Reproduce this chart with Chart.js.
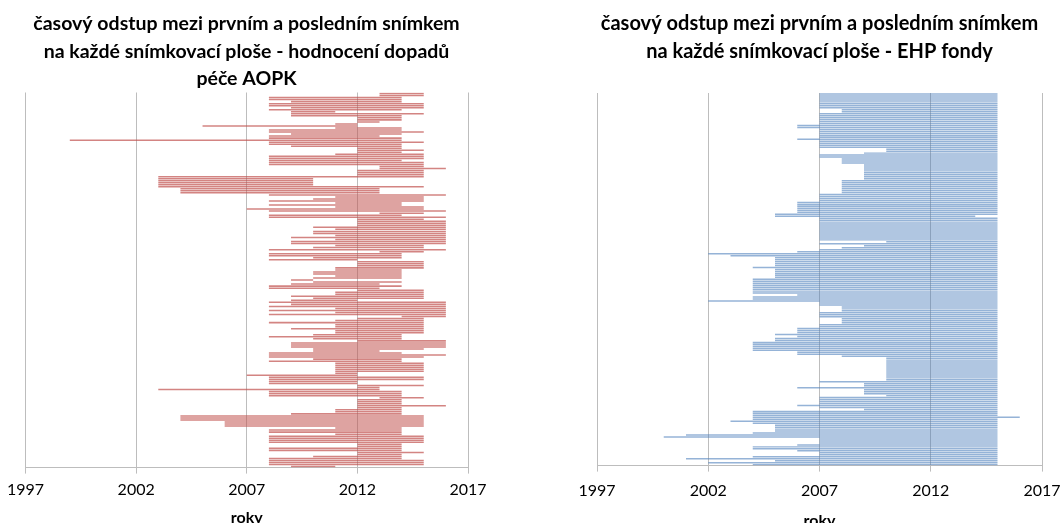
<!DOCTYPE html>
<html lang="cs">
<head>
<meta charset="utf-8" />
<title>časový odstup mezi prvním a posledním snímkem</title>
<style>
    html, body { margin: 0; padding: 0; background: #fff; overflow: hidden; }
    .panel { position: absolute; top: 0; }
    #p1 { left: 0; width: 531px; height: 531px; }
    #p2 { left: 531px; width: 560px; height: 534px; }
</style>
</head>
<body>
<div class="panel" id="p1"><canvas id="chart1"></canvas></div>
<div class="panel" id="p2"><canvas id="chart2"></canvas></div>
<script src="https://cdn.jsdelivr.net/npm/chart.js@4.4.0/dist/chart.umd.min.js"></script>
<script>
    // rok prvniho a posledniho snimku, radky shora dolu
    const aopkStart = [
        2013, 2013, 2008, 2008, 2009, 2008, 2008, 2009, 2008, 2009,
        2009, 2009, 2012, 2012, 2012, 2011, 2005, 2011, 2008, 2008,
        2009, 2008, 2008, 1999, 2008, 2008, 2009, 2012, 2012, 2012,
        2011, 2008, 2008, 2008, 2008, 2008, 2013, 2013, 2012, 2012,
        2012, 2003, 2003, 2003, 2003, 2003, 2003, 2004, 2004, 2004,
        2008, 2011, 2010, 2008, 2011, 2008, 2011, 2007, 2008, 2013,
        2008, 2008, 2012, 2012, 2012, 2012, 2010, 2011, 2010, 2010,
        2011, 2009, 2011, 2009, 2009, 2011, 2010, 2008, 2013, 2008,
        2008, 2010, 2008, 2012, 2012, 2012, 2011, 2011, 2010, 2010,
        2011, 2010, 2009, 2010, 2009, 2008, 2008, 2012, 2011, 2011,
        2009, 2010, 2009, 2008, 2009, 2008, 2011, 2008, 2011, 2008,
        2014, 2012, 2011, 2008, 2011, 2011, 2009, 2011, 2011, 2010,
        2008, 2010, 2012, 2009, 2009, 2009, 2010, 2010, 2008, 2008,
        2008, 2010, 2008, 2011, 2011, 2011, 2011, 2011, 2011, 2007,
        2008, 2008, 2008, 2008, 2012, 2012, 2003, 2008, 2008, 2008,
        2013, 2012, 2012, 2012, 2012, 2012, 2011, 2011, 2009, 2004,
        2004, 2004, 2006, 2006, 2006, 2011, 2008, 2008, 2011, 2008,
        2008, 2008, 2008, 2012, 2012, 2008, 2008, 2012, 2012, 2010,
        2008, 2008, 2008, 2008, 2009
    ];
    const aopkEnd = [
        2015, 2015, 2014, 2014, 2014, 2015, 2015, 2015, 2014, 2011,
        2015, 2014, 2014, 2014, 2013, 2012, 2012, 2014, 2014, 2015,
        2014, 2013, 2014, 2014, 2015, 2014, 2014, 2014, 2015, 2014,
        2015, 2015, 2015, 2014, 2015, 2015, 2015, 2016, 2015, 2015,
        2015, 2015, 2010, 2010, 2010, 2010, 2015, 2013, 2013, 2013,
        2016, 2015, 2015, 2015, 2014, 2014, 2015, 2015, 2016, 2015,
        2014, 2016, 2015, 2016, 2016, 2016, 2016, 2016, 2016, 2016,
        2016, 2016, 2016, 2016, 2016, 2015, 2015, 2016, 2015, 2014,
        2014, 2014, 2012, 2015, 2015, 2015, 2015, 2014, 2014, 2014,
        2014, 2014, 2010, 2014, 2013, 2014, 2013, 2015, 2015, 2015,
        2015, 2015, 2012, 2016, 2016, 2016, 2016, 2016, 2016, 2016,
        2016, 2015, 2015, 2015, 2015, 2015, 2015, 2015, 2015, 2014,
        2014, 2014, 2016, 2016, 2016, 2016, 2015, 2013, 2014, 2016,
        2015, 2014, 2014, 2015, 2015, 2015, 2015, 2015, 2012, 2012,
        2015, 2015, 2012, 2012, 2015, 2013, 2013, 2014, 2014, 2014,
        2015, 2014, 2014, 2014, 2016, 2014, 2014, 2014, 2014, 2015,
        2015, 2015, 2015, 2015, 2015, 2014, 2014, 2014, 2014, 2015,
        2015, 2015, 2015, 2014, 2014, 2014, 2014, 2015, 2014, 2014,
        2014, 2015, 2015, 2015, 2011
    ];

    const ehpStart = [
        2007, 2007, 2007, 2007, 2007, 2007, 2007, 2007, 2008, 2008,
        2007, 2007, 2007, 2007, 2007, 2007, 2006, 2006, 2007, 2007,
        2007, 2007, 2007, 2006, 2007, 2007, 2007, 2007, 2010, 2010,
        2009, 2007, 2007, 2008, 2008, 2008, 2009, 2009, 2009, 2009,
        2009, 2009, 2009, 2009, 2008, 2008, 2008, 2008, 2008, 2008,
        2008, 2007, 2007, 2007, 2007, 2006, 2006, 2006, 2006, 2006,
        2006, 2005, 2005, 2007, 2007, 2007, 2007, 2007, 2007, 2007,
        2007, 2007, 2007, 2007, 2007, 2010, 2007, 2009, 2008, 2007,
        2006, 2002, 2003, 2005, 2005, 2005, 2005, 2005, 2004, 2005,
        2005, 2005, 2005, 2005, 2004, 2004, 2004, 2004, 2004, 2004,
        2004, 2004, 2006, 2004, 2004, 2002, 2007, 2007, 2008, 2008,
        2008, 2007, 2007, 2007, 2008, 2008, 2008, 2007, 2007, 2006,
        2006, 2006, 2005, 2006, 2005, 2005, 2004, 2004, 2004, 2004,
        2004, 2006, 2006, 2008, 2010, 2010, 2010, 2010, 2010, 2010,
        2010, 2010, 2010, 2010, 2010, 2010, 2007, 2009, 2009, 2006,
        2009, 2009, 2009, 2010, 2007, 2007, 2007, 2007, 2006, 2007,
        2009, 2004, 2004, 2004, 2004, 2004, 2003, 2004, 2005, 2005,
        2005, 2005, 2004, 2001, 2000, 2007, 2007, 2007, 2006, 2004,
        2004, 2006, 2007, 2007, 2004, 2001, 2005, 2002, 2004
    ];
    const ehpEnd = [
        2015, 2015, 2015, 2015, 2015, 2015, 2015, 2015, 2015, 2015,
        2015, 2015, 2015, 2015, 2015, 2015, 2015, 2015, 2015, 2015,
        2015, 2015, 2015, 2015, 2015, 2015, 2015, 2015, 2015, 2015,
        2015, 2015, 2015, 2015, 2015, 2015, 2015, 2015, 2015, 2015,
        2015, 2015, 2015, 2015, 2015, 2015, 2015, 2015, 2015, 2015,
        2015, 2015, 2015, 2015, 2015, 2015, 2015, 2015, 2015, 2015,
        2015, 2015, 2014, 2015, 2015, 2015, 2015, 2015, 2015, 2015,
        2015, 2015, 2015, 2015, 2015, 2015, 2015, 2015, 2015, 2015,
        2015, 2015, 2015, 2015, 2015, 2015, 2015, 2015, 2015, 2015,
        2015, 2015, 2015, 2015, 2015, 2015, 2015, 2015, 2015, 2015,
        2015, 2015, 2015, 2015, 2015, 2015, 2015, 2015, 2015, 2015,
        2015, 2015, 2015, 2015, 2015, 2015, 2015, 2015, 2015, 2015,
        2015, 2015, 2015, 2015, 2015, 2015, 2015, 2015, 2015, 2015,
        2015, 2015, 2015, 2015, 2015, 2015, 2015, 2015, 2015, 2015,
        2015, 2015, 2015, 2015, 2015, 2015, 2015, 2015, 2015, 2015,
        2015, 2015, 2015, 2015, 2015, 2015, 2015, 2015, 2015, 2015,
        2015, 2015, 2015, 2015, 2016, 2015, 2015, 2015, 2015, 2015,
        2015, 2015, 2015, 2015, 2015, 2015, 2015, 2015, 2015, 2015,
        2015, 2015, 2015, 2015, 2015, 2015, 2015, 2015, 2015
    ];

    const yearTicks = [1997, 2002, 2007, 2012, 2017];

    const title1 = ['časový odstup mezi prvním a posledním snímkem',
        'na každé snímkovací ploše - hodnocení dopadů', 'péče AOPK'];
    const title2 = ['časový odstup mezi prvním a posledním snímkem',
        'na každé snímkovací ploše - EHP fondy'];

    Chart.defaults.font.family = 'Lato';
    Chart.defaults.color = '#000';

    function makeChart(id, title, starts, ends, color, pad, titleSize, titlePadBottom, tickPad, rokyPad) {
        const rows = starts.map((s, i) => [s, ends[i]]);
        const labels = starts.map((s, i) => String(i + 1));

        return new Chart(document.getElementById(id), {
            type: 'bar',
            data: {
                labels: labels,
                datasets: [{
                    data: rows,
                    backgroundColor: color,
                    borderWidth: 0,
                    categoryPercentage: 1,
                    barPercentage: 0.75
                }]
            },
            options: {
                indexAxis: 'y',
                responsive: true,
                maintainAspectRatio: false,
                animation: false,
                devicePixelRatio: 1,
                layout: { padding: pad },
                plugins: {
                    legend: { display: false },
                    tooltip: { enabled: false },
                    title: {
                        display: true,
                        text: title,
                        color: '#000',
                        font: { size: titleSize, weight: 'bold', lineHeight: 27.5 / titleSize },
                        padding: { top: 10, bottom: titlePadBottom }
                    }
                },
                scales: {
                    y: { display: false },
                    x: {
                        type: 'linear',
                        min: 1997,
                        max: 2017,
                        afterBuildTicks: (axis) => {
                            axis.ticks = yearTicks.map(v => ({ value: v }));
                        },
                        ticks: {
                            padding: tickPad,
                            font: { size: 16 },
                            color: '#000',
                            maxRotation: 0,
                            callback: (v) => String(v)
                        },
                        grid: { color: '#bdbdbd', lineWidth: 1, tickLength: 6 },
                        border: { display: true, color: '#bdbdbd' },
                        title: {
                            display: true,
                            text: 'roky',
                            color: '#000',
                            font: { size: 16, weight: 'bold' },
                            padding: { top: rokyPad, bottom: 4 }
                        }
                    }
                }
            }
        });
    }

    makeChart('chart1', title1, aopkStart, aopkEnd, 'rgba(192, 80, 77, 0.7)',
        { left: 25, right: 63, top: 0, bottom: 0 }, 19.5, 0, 7, 1);
    makeChart('chart2', title2, ehpStart, ehpEnd, 'rgba(79, 129, 189, 0.6)',
        { left: 66, right: 49, top: 0, bottom: 0 }, 20, 28, 10, 0);
</script>
</body>
</html>
